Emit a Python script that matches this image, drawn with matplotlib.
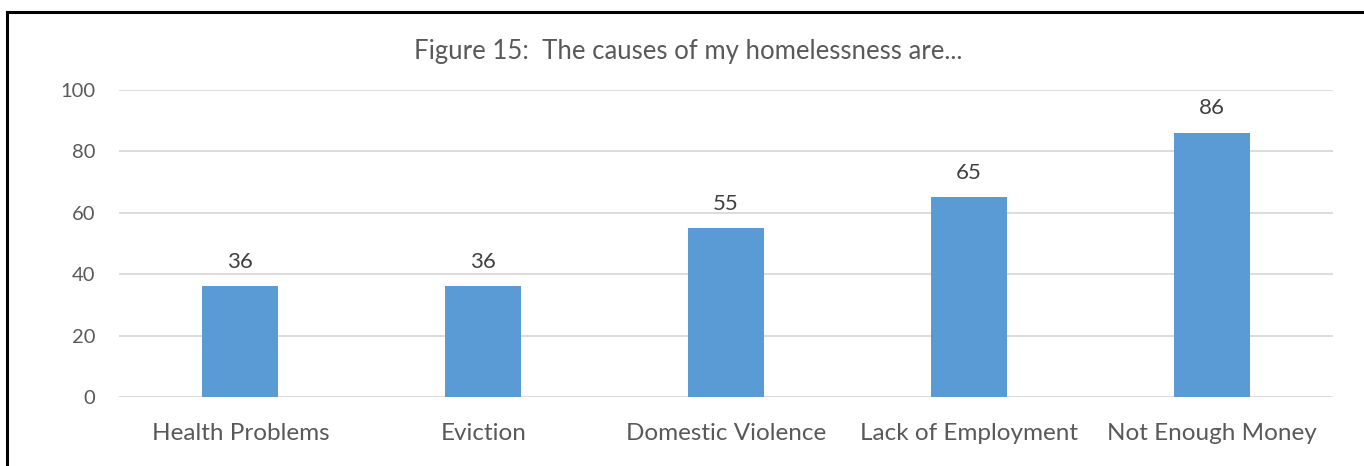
import matplotlib.pyplot as plt
from matplotlib.patches import Rectangle

causes = ["Health Problems", "Eviction", "Domestic Violence",
          "Lack of Employment", "Not Enough Money"]
counts = [36, 36, 55, 65, 86]
yticks = [0, 20, 40, 60, 80, 100]

plt.rcParams['font.family'] = ['Lato', 'DejaVu Sans']

W, H = 1364, 466
fig = plt.figure(figsize=(W / 100, H / 100), dpi=100)

# plot area in pixel terms
left, right, top, bottom = 119, 1333, 90, 397
ax = fig.add_axes([left / W, 1 - bottom / H, (right - left) / W, (bottom - top) / H])

x = range(len(causes))
bars = ax.bar(x, counts, width=0.313, color="#5B9BD5", zorder=3)
for b, v in zip(bars, counts):
    ax.annotate(str(v), (b.get_x() + b.get_width() / 2, v), xytext=(0, 10.5),
                textcoords="offset points", ha="center", va="bottom",
                fontsize=16, color="#404040")

ax.set_xlim(-0.5, len(causes) - 0.5)
ax.set_ylim(0, 100)
ax.set_yticks(yticks)
ax.set_xticks(list(x))
ax.set_xticklabels(causes, fontsize=17.5)
ax.tick_params(axis="both", length=0, colors="#595959")
ax.tick_params(axis="y", pad=17, labelsize=14.5)
ax.tick_params(axis="x", pad=19)
ax.grid(axis="y", color="#D9D9D9", linewidth=1.3, zorder=0)
for s in ax.spines.values():
    s.set_visible(False)

fig.text(688 / W, 1 - 52 / H, "Figure 15:  The causes of my homelessness are...",
         ha="center", va="center", fontsize=18.5, color="#595959")

# outer frame
fig.patches.append(Rectangle((7 / W, -0.1), 1.2, 1.1 - 12 / H, transform=fig.transFigure,
                             fill=False, edgecolor="black", linewidth=2.2))

fig.savefig("out.png", dpi=100)
